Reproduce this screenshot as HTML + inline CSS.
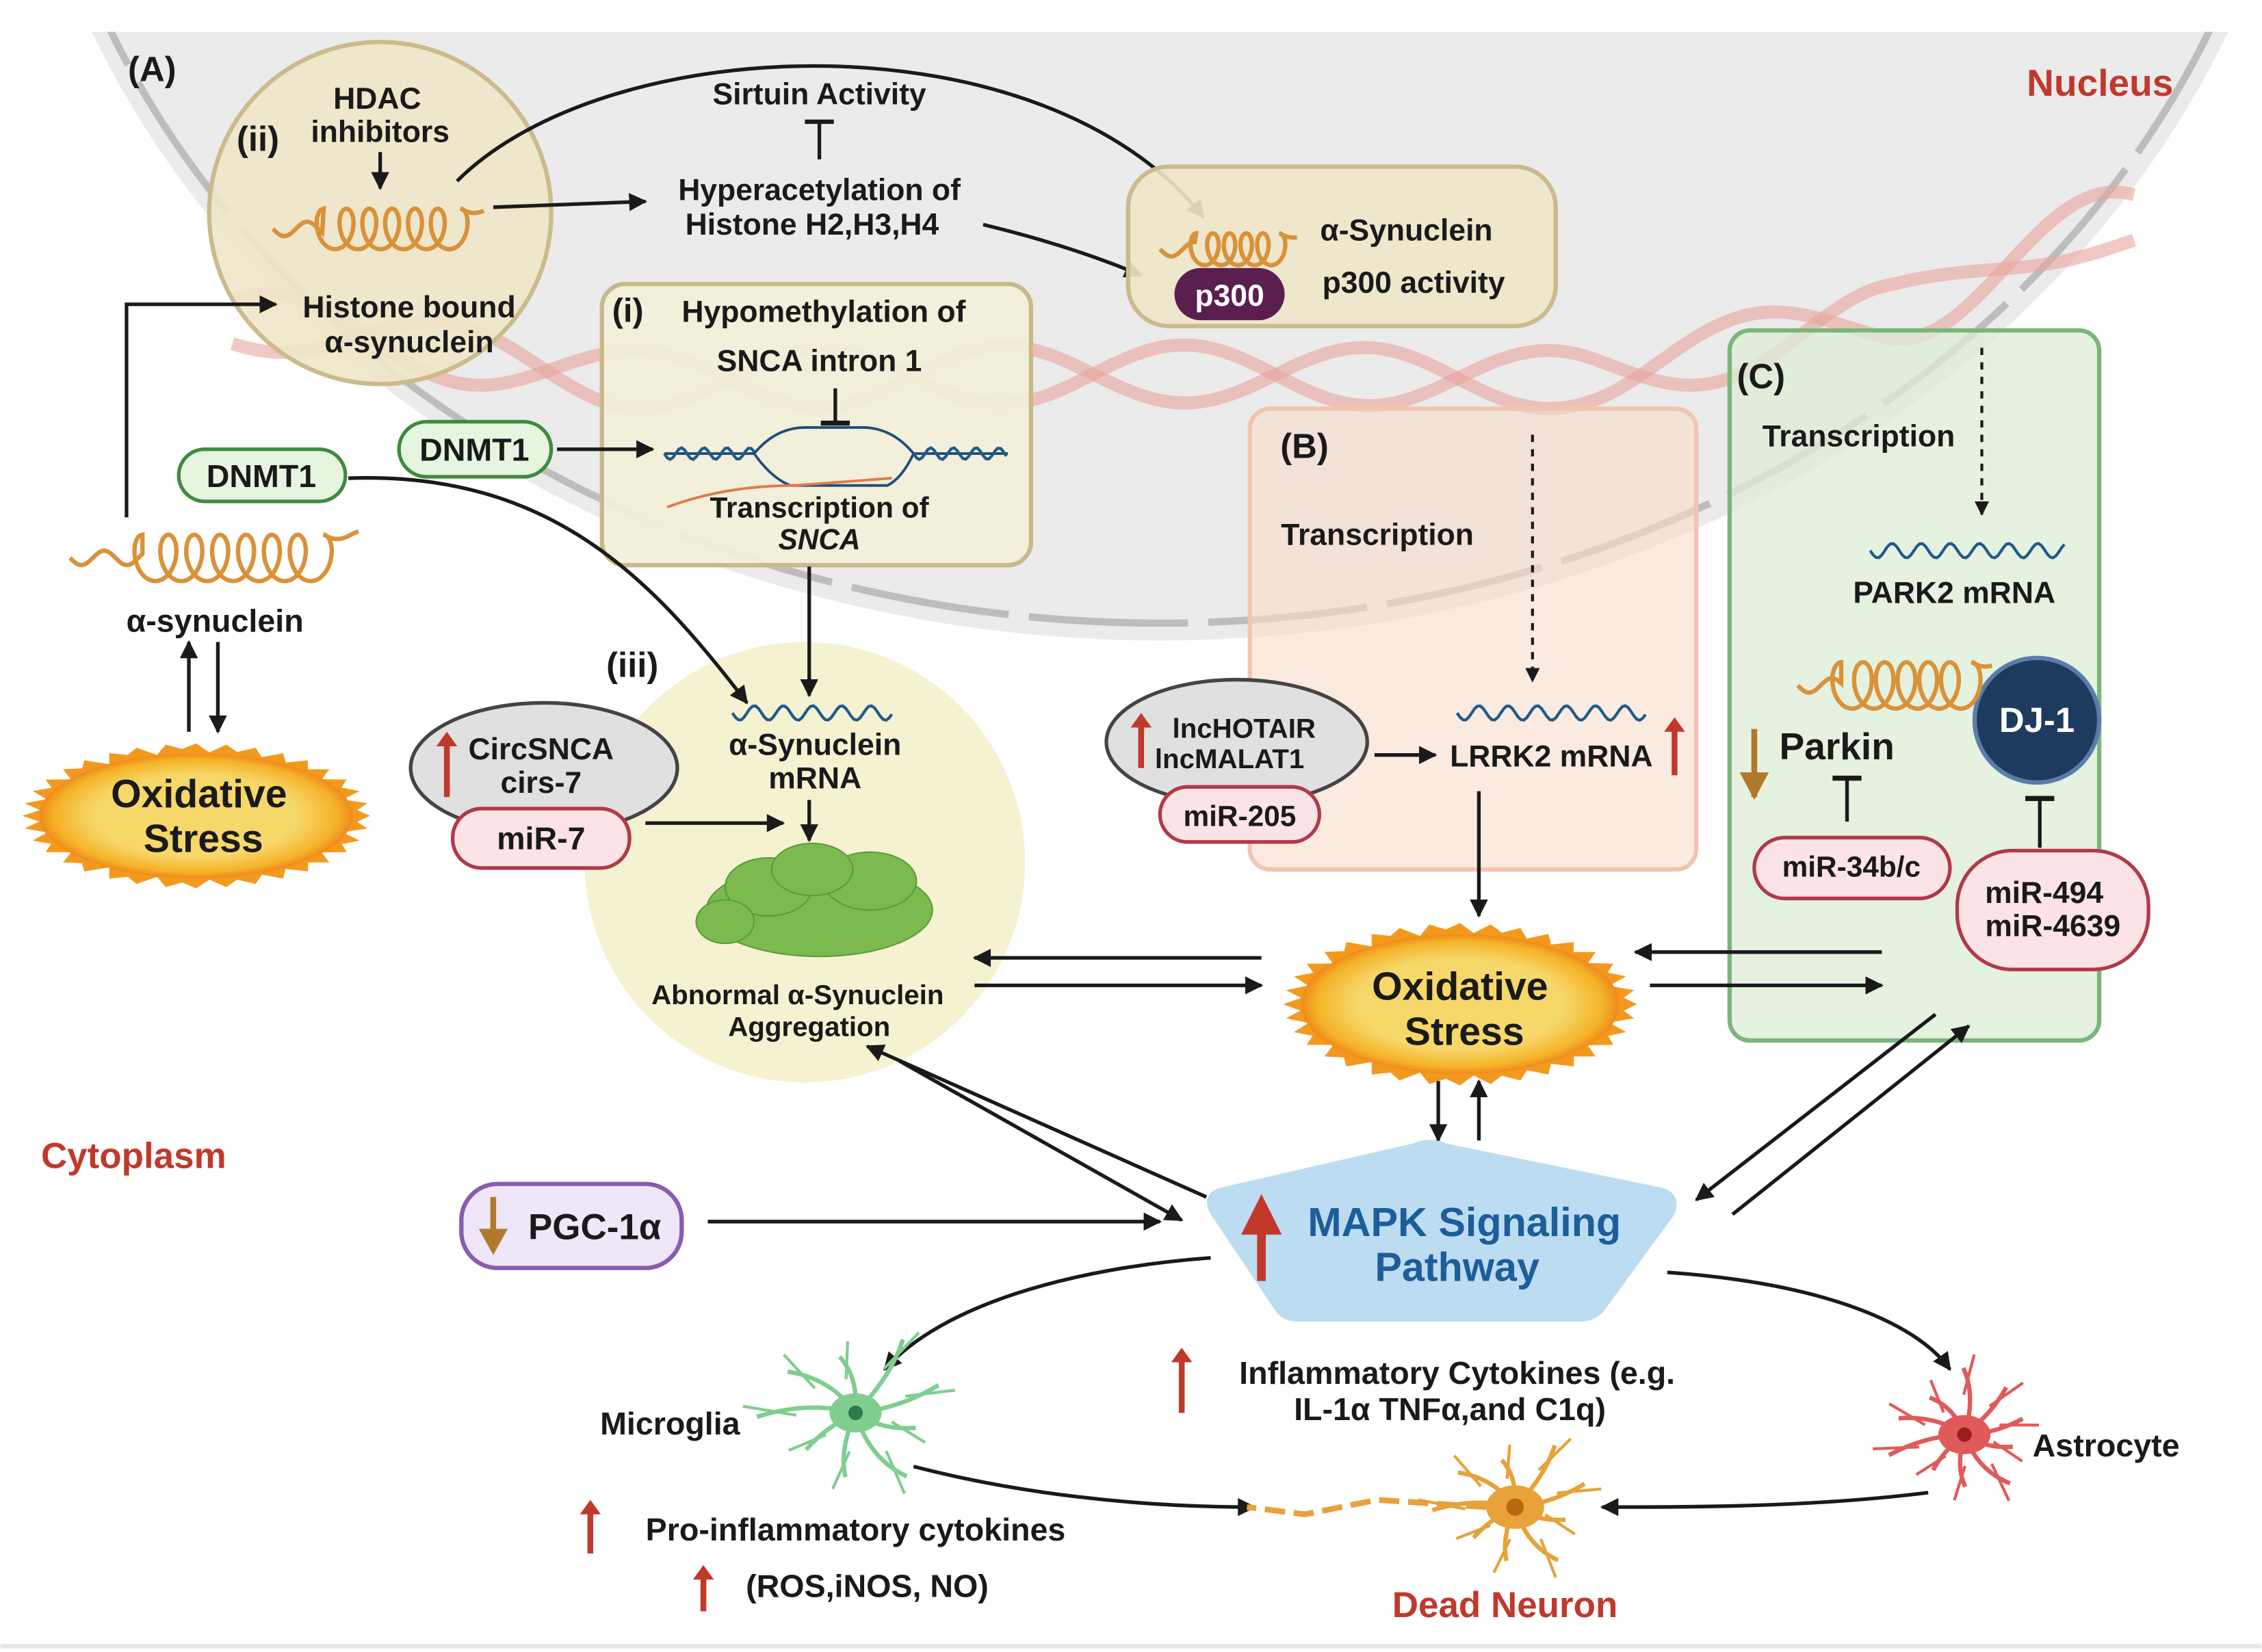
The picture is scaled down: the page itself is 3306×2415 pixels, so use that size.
<!DOCTYPE html>
<html><head><meta charset="utf-8">
<style>
html,body{margin:0;padding:0;background:#fff;}
svg{display:block;}
text{font-family:"Liberation Sans Narrow","Liberation Sans",sans-serif;font-weight:bold;fill:#1a1a1a;}
</style></head>
<body>
<svg id="s" width="3306" height="2415" viewBox="0 0 1560 1140" xmlns="http://www.w3.org/2000/svg">
<defs>
<marker id="ah" viewBox="0 0 10 10" refX="9" refY="5" markerWidth="5" markerHeight="5" orient="auto-start-reverse" markerUnits="strokeWidth"><path d="M0,0 L10,5 L0,10 z" fill="#1a1a1a"/></marker>
<radialGradient id="fl" cx="50%" cy="50%" r="50%"><stop offset="0.65" stop-color="#f6d76a"/><stop offset="0.9" stop-color="#f5b328"/><stop offset="1" stop-color="#f08a1c"/></radialGradient>
<clipPath id="top"><rect x="0" y="22" width="1560" height="1200"/></clipPath>
</defs>
<rect width="1560" height="1140" fill="#fff"/>
<g clip-path="url(#top)">
<ellipse cx="800" cy="-230" rx="795" ry="672" fill="#ebebeb"/>
<ellipse cx="800" cy="-230" rx="783" ry="660" fill="none" stroke="#bdbdbd" stroke-width="5" stroke-dasharray="110 14"/>
</g>
<line x1="0" y1="1136" x2="1560" y2="1136" stroke="#e6e6e6" stroke-width="3"/>
<circle cx="555" cy="595" r="152" fill="#f5f2d2"/>
<g id="helix"></g>

<text x="88" y="56" font-size="24">(A)</text>
<text x="1398" y="66" font-size="26" style="fill:#c0392b">Nucleus</text>

<circle cx="262" cy="147" r="118" fill="#efe7c8" fill-opacity="0.9" stroke="#cbbb8c" stroke-width="3"/>
<text x="260" y="75" font-size="21" text-anchor="middle">HDAC</text>
<text x="262" y="98" font-size="21" text-anchor="middle">inhibitors</text>
<text x="163" y="104" font-size="24">(ii)</text>
<line x1="262" y1="105" x2="262" y2="130" stroke="#1a1a1a" stroke-width="2.5" marker-end="url(#ah)"/>
<text x="282" y="219" font-size="21" text-anchor="middle">Histone bound</text>
<text x="282" y="243" font-size="21" text-anchor="middle">α-synuclein</text>
<line x1="340" y1="143" x2="445" y2="139" stroke="#1a1a1a" stroke-width="2.5" marker-end="url(#ah)"/>
<text x="565" y="72" font-size="21" text-anchor="middle">Sirtuin Activity</text>
<line x1="565" y1="110" x2="565" y2="84" stroke="#1a1a1a" stroke-width="2.5"/><line x1="555" y1="84" x2="575" y2="84" stroke="#1a1a1a" stroke-width="3"/>
<text x="565" y="138" font-size="21" text-anchor="middle">Hyperacetylation of</text>
<text x="560" y="162" font-size="21" text-anchor="middle">Histone H2,H3,H4</text>
<path d="M678,155 Q740,170 787,190" fill="none" stroke="#1a1a1a" stroke-width="2.5" marker-end="url(#ah)"/>
<path d="M315,125 C420,20 720,10 830,150" fill="none" stroke="#1a1a1a" stroke-width="2.5" marker-end="url(#ah)"/>

<rect x="778" y="115" width="295" height="110" rx="28" fill="#efe7c8" fill-opacity="0.9" stroke="#cbbb8c" stroke-width="3"/>
<rect x="810" y="185" width="76" height="36" rx="18" fill="#5a1e4f"/>
<text x="848" y="211" font-size="21" text-anchor="middle" style="fill:#fff">p300</text>
<text x="970" y="166" font-size="21" text-anchor="middle">α-Synuclein</text>
<text x="975" y="202" font-size="21" text-anchor="middle">p300 activity</text>

<rect x="415" y="196" width="296" height="194" rx="16" fill="#f2efd9" fill-opacity="0.95" stroke="#c8b98a" stroke-width="3"/>
<text x="422" y="222" font-size="23">(i)</text>
<text x="568" y="222" font-size="21" text-anchor="middle">Hypomethylation of</text>
<text x="565" y="256" font-size="21" text-anchor="middle">SNCA intron 1</text>
<line x1="576" y1="268" x2="576" y2="292" stroke="#1a1a1a" stroke-width="2.5"/><line x1="566" y1="292" x2="586" y2="292" stroke="#1a1a1a" stroke-width="3.5"/>
<path d="M458,313 L520,313 Q535,295 555,295 L595,295 Q615,295 630,313 L695,313" fill="none" stroke="#1f4e79" stroke-width="1.8"/>
<path d="M520,313 Q532,330 545,335 L612,335 Q622,330 630,313" fill="none" stroke="#1f4e79" stroke-width="1.8"/>
<path d="M460,350 Q500,335 548,335 L615,330" fill="none" stroke="#e07a4a" stroke-width="1.8"/>
<g id="dnaw"></g>
<text x="565" y="357" font-size="20" text-anchor="middle">Transcription of</text>
<text x="565" y="379" font-size="20" text-anchor="middle" font-style="italic">SNCA</text>

<rect x="275" y="291" width="105" height="38" rx="19" fill="#e6f5df" stroke="#3d8b3d" stroke-width="2.5"/>
<text x="327" y="318" font-size="22" text-anchor="middle">DNMT1</text>
<line x1="384" y1="310" x2="450" y2="310" stroke="#1a1a1a" stroke-width="2.5" marker-end="url(#ah)"/>
<rect x="123" y="310" width="115" height="36" rx="18" fill="#e6f5df" stroke="#3d8b3d" stroke-width="2.5"/>
<text x="180" y="336" font-size="22" text-anchor="middle">DNMT1</text>
<path d="M240,330 C380,325 450,400 515,485" fill="none" stroke="#1a1a1a" stroke-width="2.5" marker-end="url(#ah)"/>
<path d="M87,357 L87,210 L190,210" fill="none" stroke="#1a1a1a" stroke-width="2.5" marker-end="url(#ah)"/>
<text x="148" y="436" font-size="22" text-anchor="middle">α-synuclein</text>
<line x1="130" y1="505" x2="130" y2="443" stroke="#1a1a1a" stroke-width="2.5" marker-end="url(#ah)"/>
<line x1="150" y1="443" x2="150" y2="505" stroke="#1a1a1a" stroke-width="2.5" marker-end="url(#ah)"/>

<text x="418" y="467" font-size="24">(iii)</text>
<line x1="558" y1="391" x2="558" y2="480" stroke="#1a1a1a" stroke-width="2.5" marker-end="url(#ah)"/>
<text x="562" y="521" font-size="21" text-anchor="middle">α-Synuclein</text>
<text x="562" y="544" font-size="21" text-anchor="middle">mRNA</text>
<line x1="558" y1="552" x2="558" y2="580" stroke="#1a1a1a" stroke-width="2.5" marker-end="url(#ah)"/>
<g fill="#7cba4f" stroke="#5e9a3a" stroke-width="1">
<ellipse cx="565" cy="628" rx="78" ry="32"/><ellipse cx="530" cy="612" rx="30" ry="20"/><ellipse cx="600" cy="608" rx="32" ry="20"/><ellipse cx="560" cy="600" rx="28" ry="18"/><ellipse cx="500" cy="636" rx="20" ry="15"/>
</g>
<text x="550" y="693" font-size="19" text-anchor="middle">Abnormal α-Synuclein</text>
<text x="558" y="715" font-size="19" text-anchor="middle">Aggregation</text>

<ellipse cx="375" cy="530" rx="92" ry="45" fill="#e0e0e0" stroke="#444" stroke-width="2.5"/>
<text x="373" y="524" font-size="21" text-anchor="middle">CircSNCA</text>
<text x="373" y="547" font-size="21" text-anchor="middle">cirs-7</text>
<rect x="312" y="558" width="122" height="41" rx="20" fill="#fbe3e6" stroke="#b03a4a" stroke-width="2.5"/>
<text x="373" y="586" font-size="22" text-anchor="middle">miR-7</text>
<line x1="445" y1="568" x2="540" y2="568" stroke="#1a1a1a" stroke-width="2.5" marker-end="url(#ah)"/>

<rect x="862" y="282" width="308" height="318" rx="14" fill="#f9dccb" fill-opacity="0.6" stroke="#f2c4b2" stroke-width="3"/>
<text x="883" y="316" font-size="24">(B)</text>
<text x="950" y="376" font-size="21" text-anchor="middle">Transcription</text>
<line x1="1057" y1="300" x2="1057" y2="470" stroke="#1a1a1a" stroke-width="2" stroke-dasharray="5 5" marker-end="url(#ah)"/>
<ellipse cx="853" cy="512" rx="90" ry="43" fill="#e0e0e0" stroke="#444" stroke-width="2.5"/>
<text x="858" y="509" font-size="19" text-anchor="middle">lncHOTAIR</text>
<text x="848" y="530" font-size="19" text-anchor="middle">lncMALAT1</text>
<rect x="800" y="543" width="110" height="38" rx="19" fill="#fbe3e6" stroke="#b03a4a" stroke-width="2.5"/>
<text x="855" y="570" font-size="20" text-anchor="middle">miR-205</text>
<line x1="948" y1="521" x2="990" y2="521" stroke="#1a1a1a" stroke-width="2.5" marker-end="url(#ah)"/>
<text x="1070" y="529" font-size="21" text-anchor="middle">LRRK2 mRNA</text>
<line x1="1020" y1="546" x2="1020" y2="632" stroke="#1a1a1a" stroke-width="2.5" marker-end="url(#ah)"/>

<rect x="1193" y="228" width="255" height="490" rx="14" fill="#dcedd6" fill-opacity="0.75" stroke="#7ab57a" stroke-width="3"/>
<text x="1198" y="268" font-size="24">(C)</text>
<text x="1282" y="308" font-size="21" text-anchor="middle">Transcription</text>
<line x1="1367" y1="240" x2="1367" y2="355" stroke="#1a1a1a" stroke-width="2" stroke-dasharray="5 5" marker-end="url(#ah)"/>
<text x="1348" y="416" font-size="21" text-anchor="middle">PARK2 mRNA</text>
<circle cx="1405" cy="497" r="43" fill="#1f3a5f" stroke="#5b7cab" stroke-width="3"/>
<text x="1405" y="505" font-size="24" text-anchor="middle" style="fill:#fff">DJ-1</text>
<text x="1267" y="524" font-size="26" text-anchor="middle">Parkin</text>
<line x1="1210" y1="503" x2="1210" y2="550" stroke="#b07a2a" stroke-width="4"/><path d="M1200,533 L1210,552 L1220,533 z" fill="#b07a2a"/>
<line x1="1274" y1="567" x2="1274" y2="537" stroke="#1a1a1a" stroke-width="2.5"/><line x1="1264" y1="537" x2="1284" y2="537" stroke="#1a1a1a" stroke-width="3.5"/>
<rect x="1210" y="578" width="135" height="42" rx="21" fill="#fbe3e6" stroke="#b03a4a" stroke-width="2.5"/>
<text x="1277" y="605" font-size="20" text-anchor="middle">miR-34b/c</text>
<line x1="1407" y1="585" x2="1407" y2="551" stroke="#1a1a1a" stroke-width="2.5"/><line x1="1397" y1="551" x2="1417" y2="551" stroke="#1a1a1a" stroke-width="3.5"/>
<rect x="1350" y="587" width="132" height="82" rx="38" fill="#fbe3e6" stroke="#b03a4a" stroke-width="2.5"/>
<text x="1410" y="623" font-size="21" text-anchor="middle">miR-494</text>
<text x="1416" y="646" font-size="21" text-anchor="middle">miR-4639</text>

<g id="flames"></g>
<text x="137" y="557" font-size="27" text-anchor="middle">Oxidative</text>
<text x="140" y="588" font-size="27" text-anchor="middle">Stress</text>
<text x="1007" y="690" font-size="27" text-anchor="middle">Oxidative</text>
<text x="1010" y="721" font-size="27" text-anchor="middle">Stress</text>

<line x1="870" y1="661" x2="672" y2="661" stroke="#1a1a1a" stroke-width="2.5" marker-end="url(#ah)"/>
<line x1="672" y1="680" x2="870" y2="680" stroke="#1a1a1a" stroke-width="2.5" marker-end="url(#ah)"/>
<line x1="1298" y1="657" x2="1128" y2="657" stroke="#1a1a1a" stroke-width="2.5" marker-end="url(#ah)"/>
<line x1="1138" y1="680" x2="1298" y2="680" stroke="#1a1a1a" stroke-width="2.5" marker-end="url(#ah)"/>
<line x1="992" y1="746" x2="992" y2="787" stroke="#1a1a1a" stroke-width="2.5" marker-end="url(#ah)"/>
<line x1="1020" y1="787" x2="1020" y2="746" stroke="#1a1a1a" stroke-width="2.5" marker-end="url(#ah)"/>
<line x1="1335" y1="700" x2="1170" y2="828" stroke="#1a1a1a" stroke-width="2.5" marker-end="url(#ah)"/>
<line x1="1195" y1="838" x2="1358" y2="708" stroke="#1a1a1a" stroke-width="2.5" marker-end="url(#ah)"/>
<line x1="832" y1="826" x2="598" y2="722" stroke="#1a1a1a" stroke-width="2.5" marker-end="url(#ah)"/>
<line x1="620" y1="732" x2="815" y2="842" stroke="#1a1a1a" stroke-width="2.5" marker-end="url(#ah)"/>

<path d="M975,789 Q986,784 997,789 L1148,820 Q1160,825 1155,838 L1106,905 Q1100,912 1090,912 L895,912 Q885,912 880,905 L835,838 Q828,825 840,820 Z" fill="#bcdcf2"/>
<line x1="870" y1="884" x2="870" y2="850" stroke="#c0392b" stroke-width="6"/><path d="M856,852 L870,824 L884,852 z" fill="#c0392b"/>
<text x="1010" y="853" font-size="28" text-anchor="middle" style="fill:#1d5d9a">MAPK Signaling</text>
<text x="1005" y="884" font-size="28" text-anchor="middle" style="fill:#1d5d9a">Pathway</text>

<rect x="318" y="817" width="152" height="58" rx="25" fill="#efe6f7" stroke="#8a5cb0" stroke-width="3"/>
<line x1="340" y1="826" x2="340" y2="855" stroke="#b07a2a" stroke-width="4"/><path d="M330,848 L340,866 L350,848 z" fill="#b07a2a"/>
<text x="410" y="855" font-size="25" text-anchor="middle">PGC-1α</text>
<line x1="488" y1="843" x2="800" y2="843" stroke="#1a1a1a" stroke-width="2.5" marker-end="url(#ah)"/>
<text x="28" y="806" font-size="25" style="fill:#c0392b">Cytoplasm</text>

<path d="M835,868 C740,875 650,900 610,945" fill="none" stroke="#1a1a1a" stroke-width="2.5" marker-end="url(#ah)"/>
<path d="M1150,878 C1250,885 1320,910 1345,945" fill="none" stroke="#1a1a1a" stroke-width="2.5" marker-end="url(#ah)"/>
<path d="M630,1012 C700,1030 780,1040 865,1040" fill="none" stroke="#1a1a1a" stroke-width="2.5" marker-end="url(#ah)"/>
<path d="M1330,1030 C1250,1040 1170,1040 1105,1040" fill="none" stroke="#1a1a1a" stroke-width="2.5" marker-end="url(#ah)"/>
<g id="cells"></g>
<text x="462" y="990" font-size="22" text-anchor="middle">Microglia</text>
<text x="1402" y="1005" font-size="22">Astrocyte</text>
<text x="1005" y="955" font-size="22" text-anchor="middle">Inflammatory Cytokines (e.g.</text>
<text x="1000" y="980" font-size="22" text-anchor="middle">IL-1α TNFα,and C1q)</text>
<text x="590" y="1063" font-size="22" text-anchor="middle">Pro-inflammatory cytokines</text>
<text x="598" y="1102" font-size="22" text-anchor="middle">(ROS,iNOS, NO)</text>
<text x="1038" y="1116" font-size="25" text-anchor="middle" style="fill:#c0392b">Dead Neuron</text>
<g id="reds"></g>
<g id="coils"></g>
</svg>
<script>
var NS="http://www.w3.org/2000/svg";
function el(p,t,a){var e=document.createElementNS(NS,t);for(var k in a)e.setAttribute(k,a[k]);document.getElementById(p).appendChild(e);return e;}
(function(){
 var pts=[[160,222],[450,262],[800,258],[1100,262],[1300,215],[1475,150]];
 function base(x){for(var i=0;i<pts.length-1;i++){if(x<=pts[i+1][0]){var t=(x-pts[i][0])/(pts[i+1][0]-pts[i][0]);t=(1-Math.cos(t*Math.PI))/2;return pts[i][1]+t*(pts[i+1][1]-pts[i][1]);}}return 150;}
 var d1="",d2="";
 for(var x=160;x<=1475;x+=4){
  var b=base(x);
  var a=20*Math.sin(x/40), c=20*Math.sin(x/40+Math.PI);
  d1+=(x==160?"M":"L")+x+","+(b+a).toFixed(1);
  d2+=(x==160?"M":"L")+x+","+(b+c).toFixed(1);
 }
 el("helix","path",{d:d1,fill:"none",stroke:"#e8a49c","stroke-width":9,"stroke-opacity":0.6});
 el("helix","path",{d:d2,fill:"none",stroke:"#e8a49c","stroke-width":9,"stroke-opacity":0.6});
})();
function wave(x0,x1,y){var d="";for(var x=x0;x<=x1;x+=2)d+=(x==x0?"M":"L")+x+","+(y+5*Math.sin((x-x0)/3.2)).toFixed(1);el("coils","path",{d:d,fill:"none",stroke:"#1f5a8a","stroke-width":2});}
wave(505,615,492);wave(1005,1135,492);wave(1290,1425,380);
(function(){var d="",e="";for(var x=458;x<=520;x+=2){d+=(x==458?"M":"L")+x+","+(313+4*Math.sin((x-458)/2.5)).toFixed(1);}
for(var x=630;x<=695;x+=2){e+=(x==630?"M":"L")+x+","+(313+4*Math.sin((x-630)/2.5)).toFixed(1);}
el("dnaw","path",{d:d,fill:"none",stroke:"#1f5a8a","stroke-width":2});el("dnaw","path",{d:e,fill:"none",stroke:"#1f5a8a","stroke-width":2});})();
function coil(x0,x1,y,tail,loops,r){
 var d="M"+x0+","+y;var xs=x0+tail;
 for(var x=x0;x<=xs;x+=2)d+="L"+x+","+(y+5*Math.sin((x-x0)/5)).toFixed(1);
 var L=x1-xs-tail/2,w=L/loops;
 for(var t=0;t<=loops*2*Math.PI;t+=0.15){var x=xs+w*t/(2*Math.PI)-r*0.6*Math.sin(t);var yy=y-r*Math.cos(t);d+="L"+x.toFixed(1)+","+yy.toFixed(1);}
 var xe=xs+L;for(var x=xe;x<=x1;x+=2)d+="L"+x+","+(y-r+3*Math.sin((x-xe)/6)).toFixed(1);
 el("coils","path",{d:d,fill:"none",stroke:"#d9923a","stroke-width":3});
}
coil(188,335,158,35,6,14);coil(800,895,172,25,5,11);coil(48,248,385,50,7,16);coil(1240,1375,473,30,6,16);
function flame(cx,cy,rx,ry){
 var d="";var n=36;
 for(var i=0;i<=n*2;i++){var t=i/(n*2)*2*Math.PI;var k=(i%2==0)?1.0:0.9+0.03*Math.sin(i*1.7);var x=cx+rx*k*Math.cos(t),y=cy+ry*k*Math.sin(t);d+=(i==0?"M":"L")+x.toFixed(1)+","+y.toFixed(1);}
 el("flames","path",{d:d+"Z",fill:"#f39a1e"});
 el("flames","ellipse",{cx:cx,cy:cy,rx:rx*0.9,ry:ry*0.86,fill:"url(#fl)"});
}
flame(135,563,120,50);flame(1007,693,122,56);
function cell(cx,cy,col,body,n,len){
 for(var i=0;i<n;i++){var a=i/n*2*Math.PI+0.3;var l=len*(0.7+0.5*((i*37)%10)/10);
  var x=cx+l*Math.cos(a),y=cy+l*Math.sin(a)*0.8;
  el("cells","path",{d:"M"+cx+","+cy+" Q"+(cx+l*0.5*Math.cos(a+0.3))+","+(cy+l*0.5*Math.sin(a+0.3))+" "+x.toFixed(1)+","+y.toFixed(1),fill:"none",stroke:col,"stroke-width":3});
  el("cells","line",{x1:(cx+l*0.6*Math.cos(a)),y1:(cy+l*0.6*Math.sin(a)*0.8),x2:(x+12*Math.cos(a+0.7)),y2:(y+12*Math.sin(a+0.7)),stroke:col,"stroke-width":2});}
 el("cells","ellipse",{cx:cx,cy:cy,rx:body,ry:body*0.75,fill:col});
}
cell(590,975,"#7fce8f",18,9,62);
cell(1355,990,"#e05a5a",18,10,50);
cell(1045,1040,"#e8a23a",20,9,52);
el("cells","path",{d:"M1025,1040 L950,1035 L900,1045 L860,1040",fill:"none",stroke:"#e8a23a","stroke-width":4,"stroke-dasharray":"14 6"});
el("cells","circle",{cx:590,cy:975,r:5,fill:"#2d7a4a"});el("cells","circle",{cx:1355,cy:990,r:5,fill:"#9a1e1e"});el("cells","circle",{cx:1045,cy:1040,r:6,fill:"#b56a10"});
function up(x,y1,y2,w){el("reds","line",{x1:x,y1:y1,x2:x,y2:y2+8,stroke:"#c0392b","stroke-width":w});el("reds","path",{d:"M"+(x-w*1.8)+","+(y2+10)+" L"+x+","+y2+" L"+(x+w*1.8)+","+(y2+10)+"z",fill:"#c0392b"});}
up(308,550,505,4);up(787,530,492,4);up(1155,535,495,4);up(815,975,930,4);up(407,1072,1035,4);up(485,1112,1080,4);
</script>
</body></html>
